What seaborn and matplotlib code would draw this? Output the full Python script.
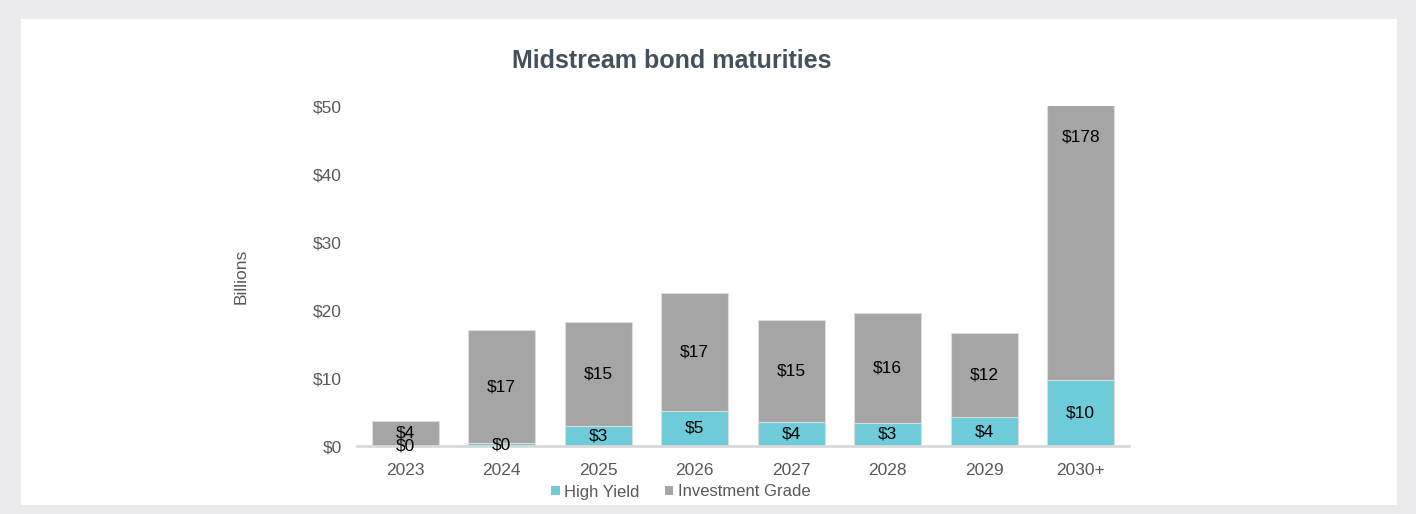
import matplotlib
matplotlib.use("Agg")
import matplotlib.pyplot as plt
from matplotlib.patches import Rectangle, Patch
import seaborn as sns
import pandas as pd

years = ["2023", "2024", "2025", "2026", "2027", "2028", "2029", "2030+"]
high_yield = [0.05, 0.4, 2.9, 5.2, 3.6, 3.4, 4.2, 9.7]
invest_grade = [3.7, 16.6, 15.3, 17.3, 15.0, 16.2, 12.4, 178]
y_ticks = [0, 10, 20, 30, 40, 50]

HY_COLOR = "#6ecbd9"
IG_COLOR = "#a5a5a5"
TXT = "#595959"
FS = 12.5

sns.set_theme(style="white")
plt.rcParams["font.family"] = ["Liberation Sans", "DejaVu Sans"]

df = pd.DataFrame({"year": years, "hy": high_yield, "ig": invest_grade})
df["total"] = df["hy"] + df["ig"]

fig = plt.figure(figsize=(14.16, 5.14), dpi=100, facecolor="#ebebed")
fig.patches.append(Rectangle((21 / 1416, (514 - 505) / 514), (1397 - 21) / 1416, (505 - 19) / 514,
                             transform=fig.transFigure, facecolor="white", edgecolor="none", zorder=-10))

ax = fig.add_axes([357 / 1416, (514 - 446) / 514, (1129 - 357) / 1416, (446 - 106) / 514])
ax.set_facecolor("none")

sns.barplot(data=df, x="year", y="total", color=IG_COLOR, saturation=1, width=0.69,
            edgecolor="#dcdcdc", linewidth=0.8, ax=ax)
sns.barplot(data=df, x="year", y="hy", color=HY_COLOR, saturation=1, width=0.69,
            edgecolor="#dcdcdc", linewidth=0.8, ax=ax)

ymax = 50
ax.set_ylim(0, ymax)
ax.set_xlim(-0.5, len(years) - 0.5)
ax.set_yticks(y_ticks)
ax.set_yticklabels([f"${v}" for v in y_ticks], color=TXT, fontsize=FS)
ax.tick_params(axis="x", colors=TXT, labelsize=FS, length=0, pad=12)
ax.tick_params(axis="y", length=0, pad=11)
for lbl in ax.get_xticklabels():
    lbl.set_color(TXT)
ax.set_xlabel("")
ax.set_ylabel("Billions", color=TXT, fontsize=FS, labelpad=46)

for s in ["top", "right", "left"]:
    ax.spines[s].set_visible(False)
ax.spines["bottom"].set_color("#d9d9d9")
ax.spines["bottom"].set_linewidth(2)

for i, (h, g) in enumerate(zip(high_yield, invest_grade)):
    ax.text(i, h / 2, f"${h:.0f}", ha="center", va="center", fontsize=FS, color="black")
    top = h + g
    gy = h + g / 2 if top <= ymax else ymax - 4.6
    ax.text(i, gy, f"${g:.0f}", ha="center", va="center", fontsize=FS, color="black")

fig.text(672 / 1416, 1 - 61 / 514, "Midstream bond maturities", ha="center", va="center",
         fontsize=18, fontweight="bold", color="#44505b")

handles = [Patch(facecolor=HY_COLOR, edgecolor="none"), Patch(facecolor=IG_COLOR, edgecolor="none")]
leg = fig.legend(handles, ["High Yield", "Investment Grade"], loc="center", bbox_to_anchor=(681 / 1416, 1 - 492 / 514),
                 ncol=2, frameon=False, fontsize=12, labelcolor=TXT, handlelength=0.5, handleheight=0.5,
                 handletextpad=0.3, columnspacing=1.5)
for t in leg.get_texts():
    t.set_verticalalignment("baseline")

fig.savefig("out.png", dpi=100, facecolor=fig.get_facecolor())
